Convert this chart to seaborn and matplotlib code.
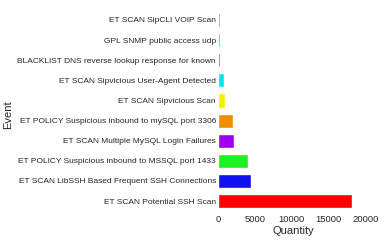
import matplotlib
matplotlib.use('Agg')
import matplotlib.pyplot as plt
import seaborn as sns
import pandas as pd

events = [
    'ET SCAN SipCLI VOIP Scan',
    'GPL SNMP public access udp',
    'BLACKLIST DNS reverse lookup response for known',
    'ET SCAN Sipvicious User-Agent Detected',
    'ET SCAN Sipvicious Scan',
    'ET POLICY Suspicious inbound to mySQL port 3306',
    'ET SCAN Multiple MySQL Login Failures',
    'ET POLICY Suspicious inbound to MSSQL port 1433',
    'ET SCAN LibSSH Based Frequent SSH Connections',
    'ET SCAN Potential SSH Scan',
]
quantity = [200, 280, 230, 850, 880, 2080, 2100, 4100, 4420, 18180]
bar_colors = ['#8a80d0', '#d06a6a', '#d020c0', '#00e5f0', '#f2f200',
              '#f08c00', '#a000f0', '#20f020', '#1010f0', '#ff0000']

df = pd.DataFrame({'Event': events, 'Quantity': quantity})

sns.set_theme(style='white')
plt.rcParams['font.family'] = ['Liberation Sans', 'DejaVu Sans']

fig, ax = plt.subplots(figsize=(3.86, 2.47), dpi=100)
sns.barplot(data=df, x='Quantity', y='Event', hue='Event', palette=bar_colors,
            legend=False, width=0.7, saturation=1, ax=ax)

ax.set_xlim(0, 20300)
ax.set_xticks([0, 5000, 10000, 15000, 20000])
ax.tick_params(axis='y', labelsize=6.0, length=0, pad=1.5)
ax.tick_params(axis='x', labelsize=6.8, length=0, pad=2.5)
ax.set_xlabel('Quantity', fontsize=8, labelpad=2)
ax.set_ylabel('Event', fontsize=8)
ax.yaxis.set_label_coords(-1.37, 0.48)
sns.despine(left=True, bottom=True)

fig.subplots_adjust(left=0.565, right=0.953, top=0.96, bottom=0.145)
fig.savefig('out.png', dpi=100)
